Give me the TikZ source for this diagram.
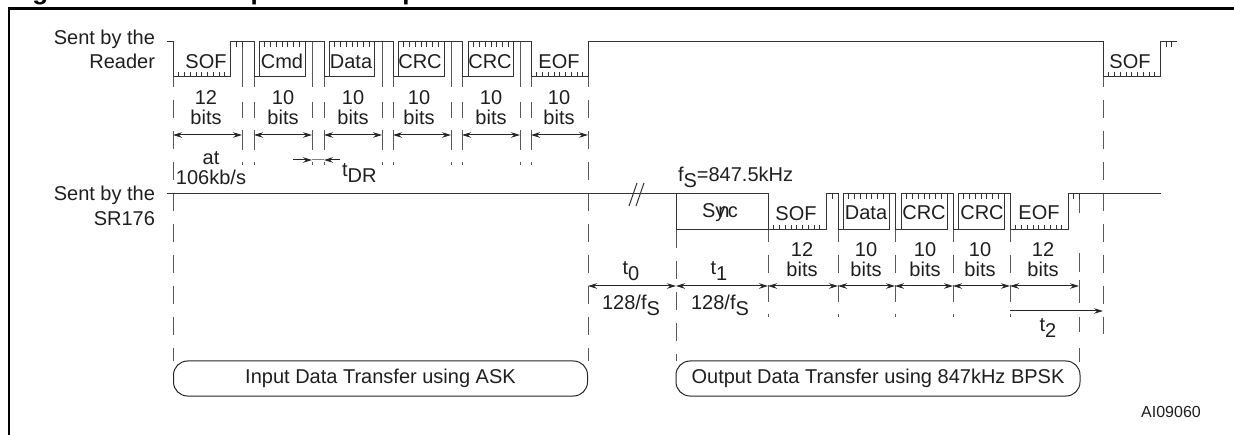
\documentclass[tikz,border=0pt]{standalone}
\usepackage{fontspec}
\setmainfont{Liberation Sans}
\usetikzlibrary{arrows.meta}
\newcommand\lowsub[1]{\raisebox{-5.5pt}{#1}}
\tikzset{
  lab/.style={anchor=base,inner sep=0pt,outer sep=0pt,yshift=-7pt,text=black!88,font=\fontsize{20}{22}\selectfont},
  sig/.style={line width=1pt,draw=black!80,line join=miter},
  tick/.style={line width=.8pt,draw=black!80},
  dim/.style={line width=1pt,draw=black!85,{Stealth[length=9pt,width=5.5pt]}-{Stealth[length=9pt,width=5.5pt]}},
  guide/.style={line width=1pt,draw=black!65},
  shortA/.style={guide,dash pattern=on 45pt off 15pt on 16pt off 12pt on 20pt off 12pt on 3pt off 300pt},
  shortB/.style={guide,dash pattern=on 12pt off 13pt on 18pt off 12pt on 17pt off 12pt on 3pt off 300pt},
  longdash/.style={guide,dash pattern=on 18pt off 13pt,dash phase=8pt},
  capsule/.style={draw=black!85,line width=1pt,rounded corners=14pt,minimum height=35pt,inner sep=0pt,text=black!88,font=\fontsize{20}{22}\selectfont},
}
\begin{document}
\begin{tikzpicture}[x=1pt,y=-1pt]
\useasboundingbox (0,0) rectangle (1234,435);
% clipped caption
\begin{scope}
\clip (0,0) rectangle (1234,6);
\node[anchor=base west,inner sep=0pt,font=\bfseries\fontsize{26}{28}\selectfont] (capa) at (9,0) {Figure};
\node[anchor=base west,inner sep=0pt,font=\bfseries\fontsize{26}{28}\selectfont] (capb) at (181,0) {Example of a complete transmission frame};
\end{scope}
% frame
\draw[line width=2.2pt,black] (9,435) -- (9,8.5) -- (1234,8.5);
% guides
\foreach \x in {242,254,312,324,382,393,451,462,520,531} \draw[shortA] (\x,42) -- (\x,166);
\foreach \x in {768,838,895,953,1010} \draw[shortB] (\x,230) -- (\x,318);
\foreach \x in {173,588} \draw[longdash] (\x,77) -- (\x,361);
\draw[longdash,dash phase=0pt] (676,230) -- (676,361);
\draw[longdash] (1103,77) -- (1103,334);
\draw[guide,dash pattern=on 18pt off 40pt on 19pt off 8pt on 23pt off 14pt on 15pt off 16pt on 14pt off 300pt] (1079,195) -- (1079,362);
% reader signal
\draw[sig] (167,42) -- (173,42) -- (173,77) -- (230,77) -- (230,42) -- (254,42) -- (254,77) -- (305,77) -- (305,42)
  (259,77) -- (259,42) -- (324,42) -- (324,77) -- (374,77) -- (374,42)
  (329,77) -- (329,42) -- (393,42) -- (393,77) -- (444,77) -- (444,42)
  (398,77) -- (398,42) -- (462,42) -- (462,77) -- (513,77) -- (513,42)
  (468,77) -- (468,42) -- (531,42) -- (531,77) -- (588,77) -- (588,42) -- (1103,42) -- (1103,77) -- (1160,77) -- (1160,42) -- (1177,42);
% SR176 signal
\draw[sig] (167,194) -- (768,194) -- (768,230) -- (676,230) -- (676,194)
  (768,230) -- (826,230) -- (826,194) -- (838,194) -- (838,230) -- (889,230) -- (889,194)
  (843,230) -- (843,194) -- (895,194) -- (895,230) -- (947,230) -- (947,194)
  (901,230) -- (901,194) -- (953,194) -- (953,230) -- (1004,230) -- (1004,194)
  (958,230) -- (958,194) -- (1010,194) -- (1010,230) -- (1068,230) -- (1068,194) -- (1161,194);
\draw[sig] (629,206) -- (637,183) (636,206) -- (644,183);
% ticks
\foreach \a in {173,531,1103} \foreach \k in {1,...,9} \draw[tick] ({\a+5.75*\k},77) -- ++(0,-5);
\foreach \a in {768,1010} \foreach \k in {1,...,9} \draw[tick] ({\a+5.75*\k},230) -- ++(0,-5);
\foreach \a in {259,329,398,468} \foreach \k in {1,...,7} \draw[tick] ({\a+5.75*\k},42) -- ++(0,5);
\foreach \a in {843,901,958} \foreach \k in {1,...,7} \draw[tick] ({\a+5.75*\k},194) -- ++(0,5);
\foreach \x in {236,242,1166,1171,832,1073,1079} {
  \pgfmathsetmacro\yy{\x>800 && \x<1100 ? 194 : 42}
  \draw[tick] (\x,\yy) -- ++(0,5);
}
% dimension arrows
\foreach \p/\q in {173/242,254/312,324/382,393/451,462/520,531/588} \draw[dim] (\p,135) -- (\q,135);
\foreach \p/\q in {588/676,676/768,768/838,838/895,895/953,953/1010,1010/1079} \draw[dim] (\p,286) -- (\q,286);
\draw[line width=1pt,draw=black!85,-{Stealth[length=9pt,width=5.5pt]}] (1010,311) -- (1103,311);
\draw[line width=1pt,draw=black!85,-{Stealth[length=9pt,width=5.5pt]}] (293,160) -- (312,160);
\draw[line width=1pt,draw=black!85,-{Stealth[length=9pt,width=5.5pt]}] (340,160) -- (324,160);
\draw[line width=1pt,draw=black!50] (312,160) -- (324,160);
% capsules
\node[capsule,minimum width=414pt] (ask) at (380.5,378.5) {Input Data Transfer using ASK};
\node[capsule,minimum width=404pt] (bpsk) at (878,378.5) {Output Data Transfer using 847kHz BPSK};
% left labels
\node[lab,anchor=base east] (l1) at (155,38) {Sent by the};
\node[lab,anchor=base east] (l2) at (155,62) {Reader};
\node[lab,anchor=base east] (l3) at (155,194) {Sent by the};
\node[lab,anchor=base east] (l4) at (155,219) {SR176};
% reader field labels
\node[lab] (r1) at (206,62) {SOF};
\node[lab] (r2) at (282,62) {Cmd};
\node[lab] (r3) at (351,62) {Data};
\node[lab] (r4) at (420,62) {CRC};
\node[lab] (r5) at (490,62) {CRC};
\node[lab] (r6) at (559,62) {EOF};
\node[lab] (r7) at (1130,62) {SOF};
\foreach \x/\n/\m in {206/12/a,283/10/b,353/10/c,419/10/d,491/10/e,559/10/f} {
  \node[lab] (n\m) at (\x,98) {\n};
  \node[lab] (b\m) at (\x,118) {bits};
}
\node[lab] (at) at (211,158) {at};
\node[lab] (rate) at (211,178) {106kb/s};
\node[lab,anchor=base west] (tdr) at (342,170) {t\lowsub{DR}};
\node[lab,anchor=base west] (fs) at (678,175) {f\lowsub{S}=847.5kHz};
% tag labels
\node[lab] (s1) at (720,211) {Sy\kern-7pt n\kern-1.5pt c};
\node[lab] (s2) at (796,214) {SOF};
\node[lab] (s3) at (866,213) {Data};
\node[lab] (s4) at (924,213) {CRC};
\node[lab] (s5) at (982,213) {CRC};
\node[lab] (s6) at (1039,213) {EOF};
\foreach \x/\n/\m in {802/12/g,866/10/h,925/10/i,980/10/j,1043/12/k} {
  \node[lab] (n\m) at (\x,250) {\n};
  \node[lab] (b\m) at (\x,270) {bits};
}
\node[lab] (t0) at (631,268) {t\lowsub{0}};
\node[lab] (t1) at (719,268) {t\lowsub{1}};
\node[lab] (f0) at (631,303) {128/f\lowsub{S}};
\node[lab] (f1) at (720,303) {128/f\lowsub{S}};
\node[lab] (t2) at (1048,325) {t\lowsub{2}};
\node[lab,font=\fontsize{16}{18}\selectfont,yshift=1.5pt] (ai) at (1171,412) {AI09060};
\end{tikzpicture}
\end{document}
